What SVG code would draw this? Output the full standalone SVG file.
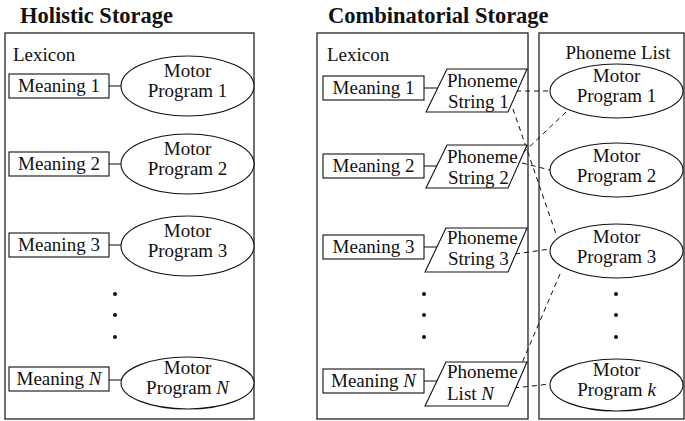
<svg xmlns="http://www.w3.org/2000/svg" width="685" height="421" viewBox="0 0 685 421">
<style>
text{font-family:"Liberation Serif","Times New Roman",serif;font-size:19px;fill:#111}
.title{font-weight:bold;font-size:22.5px}
.mid{text-anchor:middle}
.frame{fill:none;stroke:#222;stroke-width:1.3}
.box{fill:#fff;stroke:#111;stroke-width:1.1}
.link{stroke:#222;stroke-width:1.1;fill:none}
.dash{stroke:#111;stroke-width:1;fill:none;stroke-dasharray:5 4}
.dot{fill:#111}
</style>
<rect width="685" height="421" fill="#fff"/>

<text class="title" x="20" y="23">Holistic Storage</text>
<text class="title" x="328" y="23">Combinatorial Storage</text>

<g id="left-lexicon">
<rect class="frame" x="5" y="33" width="249" height="386"/>
<text x="13" y="61">Lexicon</text>
</g>
<g id="right-lexicon">
<rect class="frame" x="317" y="33" width="211" height="386"/>
<text x="327" y="61">Lexicon</text>
</g>
<g id="phoneme-list">
<rect class="frame" x="539" y="33" width="145" height="386"/>
<text class="mid" x="618" y="59">Phoneme List</text>
</g>

<g id="connectors">
<line class="link" x1="109" y1="86" x2="121" y2="86"/>
<line class="link" x1="109" y1="164" x2="121" y2="164"/>
<line class="link" x1="109" y1="245" x2="121" y2="245"/>
<line class="link" x1="109" y1="380" x2="121" y2="380"/>
<line class="link" x1="424" y1="88" x2="438" y2="88"/>
<line class="link" x1="424" y1="166" x2="438" y2="166"/>
<line class="link" x1="424" y1="247" x2="438" y2="247"/>
<line class="link" x1="424" y1="381" x2="438" y2="381"/>
<line class="dash" x1="516" y1="91" x2="550" y2="91"/>
<line class="dash" x1="566" y1="112" x2="524" y2="152"/>
<line class="dash" x1="513" y1="109" x2="556" y2="234"/>
<line class="dash" x1="522" y1="163" x2="550" y2="170"/>
<line class="dash" x1="515" y1="254" x2="550" y2="249"/>
<line class="dash" x1="560" y1="274" x2="522" y2="363"/>
<line class="dash" x1="514" y1="388" x2="550" y2="384"/>
</g>

<g id="h-meaning-1"><rect class="box" x="9" y="74" width="100" height="24"/><text class="mid" x="59" y="92">Meaning 1</text></g>
<g id="h-motor-1"><ellipse class="box" cx="187.5" cy="86" rx="66.5" ry="30"/><text class="mid" x="187.5" y="77">Motor</text><text class="mid" x="187.5" y="97">Program 1</text></g>
<g id="h-meaning-2"><rect class="box" x="9" y="152" width="100" height="24"/><text class="mid" x="59" y="170">Meaning 2</text></g>
<g id="h-motor-2"><ellipse class="box" cx="187.5" cy="164" rx="66.5" ry="30"/><text class="mid" x="187.5" y="155">Motor</text><text class="mid" x="187.5" y="175">Program 2</text></g>
<g id="h-meaning-3"><rect class="box" x="9" y="233" width="100" height="24"/><text class="mid" x="59" y="251">Meaning 3</text></g>
<g id="h-motor-3"><ellipse class="box" cx="187.5" cy="246" rx="66.5" ry="30"/><text class="mid" x="187.5" y="237">Motor</text><text class="mid" x="187.5" y="257">Program 3</text></g>
<g id="h-dots"><circle class="dot" cx="115" cy="294" r="2"/><circle class="dot" cx="115" cy="315" r="2"/><circle class="dot" cx="115" cy="337" r="2"/></g>
<g id="h-meaning-n"><rect class="box" x="9" y="367" width="100" height="24"/><text class="mid" x="59" y="385">Meaning <tspan font-style="italic">N</tspan></text></g>
<g id="h-motor-n"><ellipse class="box" cx="187.5" cy="383" rx="66.5" ry="26"/><text class="mid" x="187.5" y="374">Motor</text><text class="mid" x="187.5" y="394">Program <tspan font-style="italic">N</tspan></text></g>

<g id="c-meaning-1"><rect class="box" x="323" y="76" width="101" height="24"/><text class="mid" x="373.5" y="94">Meaning 1</text></g>
<g id="c-string-1"><polygon class="box" points="447,69 527,69 508,112 426,112"/><text x="447" y="87">Phoneme</text><text x="448" y="108">String 1</text></g>
<g id="c-meaning-2"><rect class="box" x="323" y="154" width="101" height="24"/><text class="mid" x="373.5" y="172">Meaning 2</text></g>
<g id="c-string-2"><polygon class="box" points="447,145 527,145 508,188 426,188"/><text x="447" y="163">Phoneme</text><text x="448" y="184">String 2</text></g>
<g id="c-meaning-3"><rect class="box" x="323" y="235" width="101" height="24"/><text class="mid" x="373.5" y="253">Meaning 3</text></g>
<g id="c-string-3"><polygon class="box" points="446,228 527,228 508,272 425,272"/><text x="447" y="244">Phoneme</text><text x="448" y="265">String 3</text></g>
<g id="c-dots"><circle class="dot" cx="424" cy="294" r="2"/><circle class="dot" cx="424" cy="315" r="2"/><circle class="dot" cx="424" cy="337" r="2"/></g>
<g id="c-meaning-n"><rect class="box" x="323" y="369" width="101" height="24"/><text class="mid" x="373.5" y="387">Meaning <tspan font-style="italic">N</tspan></text></g>
<g id="c-list-n"><polygon class="box" points="446,362 527,362 508,406 425,406"/><text x="447" y="378">Phoneme</text><text x="447" y="400">List <tspan font-style="italic">N</tspan></text></g>

<g id="p-motor-1"><ellipse class="box" cx="616.5" cy="91" rx="66.5" ry="27"/><text class="mid" x="616.5" y="82">Motor</text><text class="mid" x="616.5" y="102">Program 1</text></g>
<g id="p-motor-2"><ellipse class="box" cx="616.5" cy="170" rx="66.5" ry="27"/><text class="mid" x="616.5" y="162">Motor</text><text class="mid" x="616.5" y="182">Program 2</text></g>
<g id="p-motor-3"><ellipse class="box" cx="616.5" cy="251" rx="66.5" ry="27"/><text class="mid" x="616.5" y="243">Motor</text><text class="mid" x="616.5" y="263">Program 3</text></g>
<g id="p-dots"><circle class="dot" cx="616" cy="294" r="2"/><circle class="dot" cx="616" cy="315" r="2"/><circle class="dot" cx="616" cy="337" r="2"/></g>
<g id="p-motor-k"><ellipse class="box" cx="616.5" cy="385" rx="66.5" ry="26"/><text class="mid" x="616.5" y="376">Motor</text><text class="mid" x="616.5" y="396">Program <tspan font-style="italic">k</tspan></text></g>
</svg>
